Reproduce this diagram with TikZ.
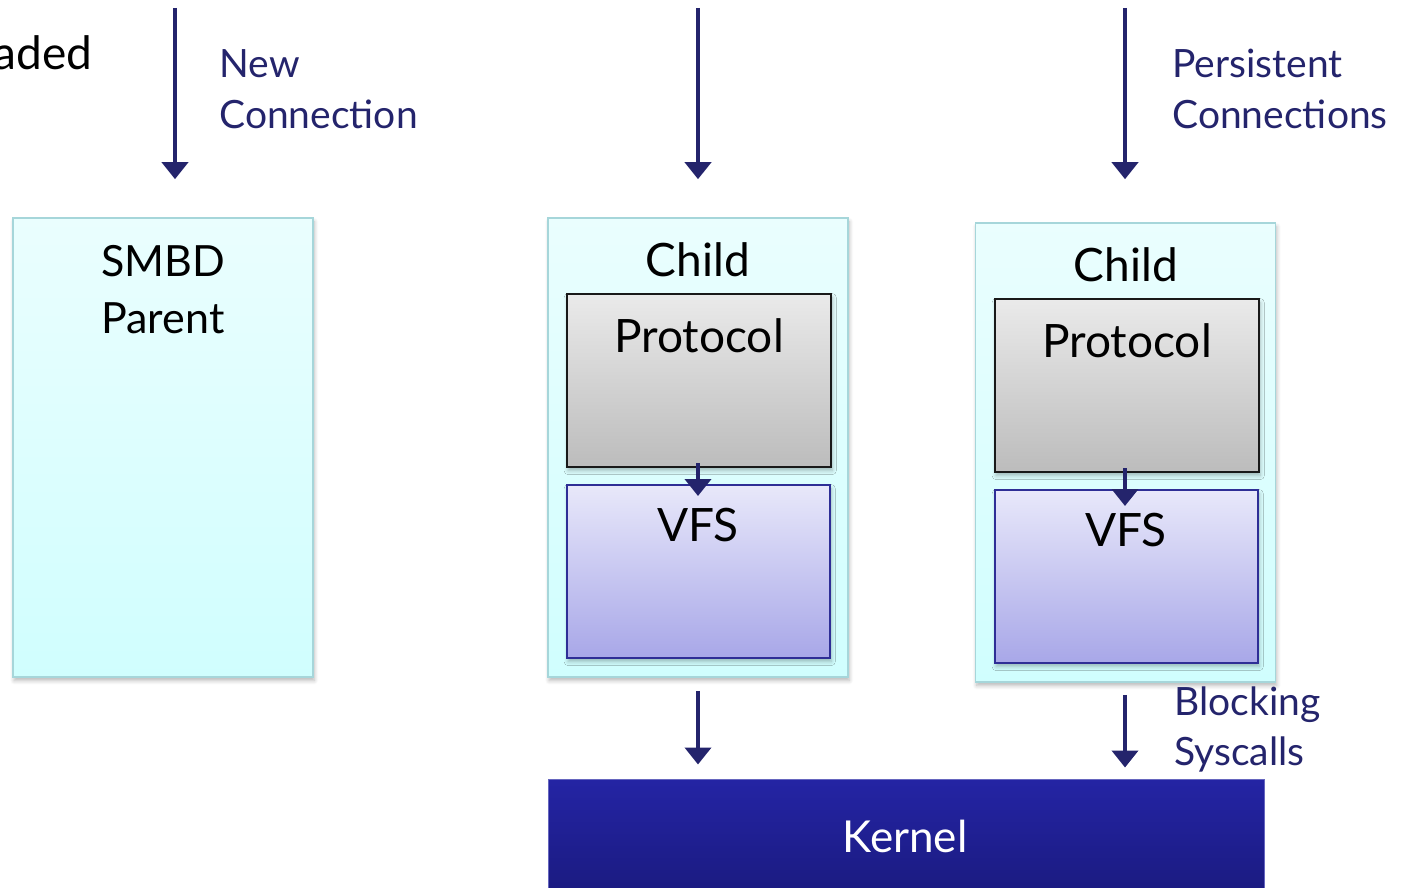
\documentclass[tikz,border=0pt]{standalone}
\usepackage{fontspec}
\setmainfont{Lato}
\usetikzlibrary{arrows.meta,shadows.blur}
\definecolor{navy}{HTML}{24246C}
\definecolor{procedge}{HTML}{A6D6DA}
\definecolor{proctop}{HTML}{EAFEFE}
\definecolor{procbot}{HTML}{D0FEFE}
\definecolor{prototop}{HTML}{EAEAEA}
\definecolor{protobot}{HTML}{BCBCBC}
\definecolor{vfstop}{HTML}{E8E8FA}
\definecolor{vfsbot}{HTML}{A8A7E8}
\definecolor{vfsedge}{HTML}{2E2E96}
\definecolor{kerntop}{HTML}{2424A4}
\definecolor{kernbot}{HTML}{1A1A7E}
\tikzset{
  softshadow/.style={blur shadow={shadow blur steps=6, shadow xshift=0.6pt, shadow yshift=-1.8pt, shadow opacity=28}},
  procbox/.style={rectangle, inner sep=0pt, minimum width=150pt, minimum height=229.5pt,
    draw=procedge, line width=0.8pt, top color=proctop, bottom color=procbot, softshadow},
  protobox/.style={rectangle, inner sep=0pt, minimum width=132pt, minimum height=86.5pt,
    draw=black!90, line width=1.1pt, top color=prototop, bottom color=protobot, softshadow},
  vfsbox/.style={rectangle, inner sep=0pt, minimum width=131.5pt, minimum height=86.5pt,
    draw=vfsedge, line width=1pt, top color=vfstop, bottom color=vfsbot, softshadow},
  kernbox/.style={rectangle, inner sep=0pt, minimum width=358pt, minimum height=60.5pt,
    draw=kerntop!70!white, line width=0.5pt, top color=kerntop, bottom color=kernbot},
  title/.style={font=\fontsize{23}{28.5}\selectfont, inner sep=0pt, text=black},
  note/.style={font=\fontsize{19.5}{25}\selectfont, inner sep=0pt, text=navy, align=left},
  flow/.style={draw=navy, line width=2pt, -{Triangle[width=13pt,length=8.5pt]}},
}
\begin{document}
\begin{tikzpicture}[x=0.5pt,y=-0.5pt]
\useasboundingbox (0,0) rectangle (1402,888);
\clip (0,0) rectangle (1402,888);

% kernel at the bottom
\node[kernbox] (kernel) at (906,839.5) {};
\node[title, font=\fontsize{22}{26}\selectfont, text=white, anchor=base] (kerneltxt) at (905,852) {Kernel};

% parent process (multi-line nodes sit on their last baseline)
\node[procbox] (parent) at (163,447.5) {};
\node[title, font=\fontsize{21.5}{28.5}\selectfont, anchor=base west, align=left] (parenttxt) at (101,333) {SMBD\\Parent};

% first child
\node[procbox] (child1) at (698,447.5) {};
\node[title, anchor=base] (child1txt) at (698,276) {Child};
\node[protobox] (proto1) at (699,380.5) {};
\node[title, anchor=base] (proto1txt) at (699,352) {Protocol};
\node[vfsbox] (vfs1) at (698.5,571.5) {};
\node[title, anchor=base] (vfs1txt) at (698,541) {VFS};

% second child
\node[procbox] (child2) at (1125.5,452.5) {};
\node[title, anchor=base] (child2txt) at (1126,281) {Child};
\node[protobox] (proto2) at (1127,385.5) {};
\node[title, anchor=base] (proto2txt) at (1127,357) {Protocol};
\node[vfsbox] (vfs2) at (1126.5,576.5) {};
\node[title, anchor=base] (vfs2txt) at (1126,546) {VFS};

% labels
\node[title, anchor=base east] (threaded) at (93,70) {Threaded};
\node[note, anchor=base west] (newconn) at (219,128) {New\\Connection};
\node[note, anchor=base west] (persist) at (1172,128) {Persistent\\Connections};
\node[note, anchor=base west] (blocking) at (1174,765) {Blocking\\Syscalls};

% incoming connections
\coordinate (in1) at (175,8);
\coordinate (in2) at (698,8);
\coordinate (in3) at (1125,8);
\draw[flow, shorten >=19pt] (in1) -- (in1 |- parent.north);
\draw[flow, shorten >=19pt] (in2) -- (in2 |- child1.north);
\draw[flow, shorten >=21.5pt] (in3) -- (in3 |- child2.north);

% protocol to vfs
\draw[flow, shorten <=-2.5pt, shorten >=-6pt] (proto1.south -| vfs1txt) -- (vfs1.north -| vfs1txt);
\draw[flow, shorten <=-2.5pt, shorten >=-8.5pt] (proto2.south -| in3) -- (vfs2.north -| in3);

% syscalls into the kernel
\draw[flow, shorten <=6.5pt, shorten >=7pt] (child1.south) -- (kernel.north -| child1.south);
\draw[flow, shorten <=6pt, shorten >=5.5pt] (child2.south -| in3) -- (kernel.north -| in3);
\end{tikzpicture}
\end{document}
